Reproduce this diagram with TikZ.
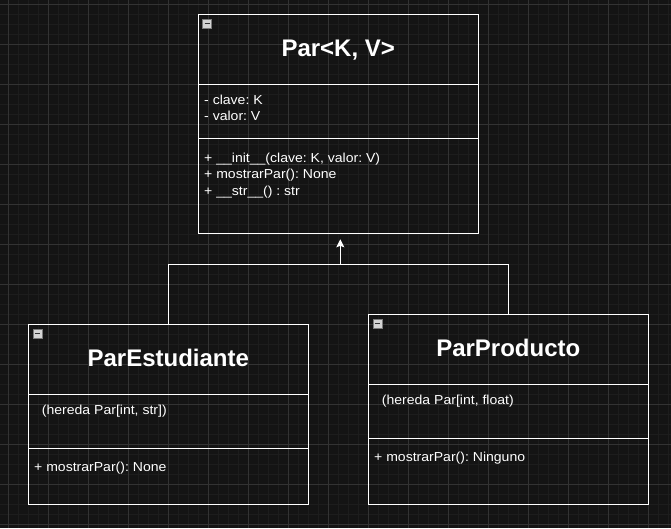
\documentclass[tikz,border=0pt]{standalone}
\usepackage{fontspec}
\setmainfont{Liberation Sans}
\newfontfamily\bodyfont[FakeStretch=1.08]{Liberation Sans}
\usetikzlibrary{arrows.meta}
\definecolor{bg}{HTML}{141414}
\definecolor{gmaj}{HTML}{333333}
\definecolor{gmin}{HTML}{1D1D1D}
\definecolor{iconfill}{HTML}{D4D4D4}
\definecolor{iconborder}{HTML}{7A7A7A}
\tikzset{
  umlbox/.style={draw=white, line width=1pt, rectangle, inner sep=0pt},
  divider/.style={draw=white, line width=1pt},
  conn/.style={draw=white, line width=1pt},
  titletext/.style={text=white, font=\fontsize{24}{28}\selectfont\bfseries, inner sep=0pt, anchor=base},
  bodytext/.style={text=white, font=\bodyfont\fontsize{13}{15}\selectfont\frenchspacing, inner sep=0pt, anchor=base west},
  minorline/.style={draw=gmin, line width=0.8pt},
  majorline/.style={draw=gmaj, line width=1pt},
}
\newcommand{\collapseicon}[2]{%
  \draw[fill=iconfill, draw=iconborder, line width=0.6pt] (#1+4.5,#2+4.5) rectangle (#1+13.5,#2+13.5);
  \draw[draw=black!80, line width=1.3pt] (#1+6.5,#2+9) -- (#1+11.5,#2+9);
}
\begin{document}
\begin{tikzpicture}[x=1pt, y=-1pt]
\useasboundingbox[fill=bg] (0,0) rectangle (671,528);
% grid
\foreach \x in {8,18,...,668} \draw[minorline] (\x,0) -- (\x,528);
\foreach \y in {4,14,...,524} \draw[minorline] (0,\y) -- (671,\y);
\foreach \x in {8,48,...,648} \draw[majorline] (\x,0) -- (\x,528);
\foreach \y in {4,44,...,524} \draw[majorline] (0,\y) -- (671,\y);

% Par box
\node[umlbox, minimum width=280pt, minimum height=219pt] (par) at (338.2,123.8) {};
\draw[divider] (198.2,84) -- (478.2,84);
\draw[divider] (198.2,138) -- (478.2,138);
\collapseicon{198.2}{14.3}
\node[titletext] (partitle) at (338.2,56.7) {Par<K, V>};
\node[bodytext] (parattr1) at (204,104) {- clave: K};
\node[bodytext] (parattr2) at (204,120.7) {- valor: V};
\node[bodytext] (parop1) at (204,162) {+ \_\_init\_\_(clave: K, valor: V)};
\node[bodytext] (parop2) at (204,178.5) {+ mostrarPar(): None};
\node[bodytext] (parop3) at (204,195) {+ \_\_str\_\_() : str};

% ParEstudiante box
\node[umlbox, minimum width=280pt, minimum height=180pt] (est) at (168.3,414.3) {};
\draw[divider] (28.3,394.3) -- (308.3,394.3);
\draw[divider] (28.3,448) -- (308.3,448);
\collapseicon{28.3}{324.3}
\node[titletext] (esttitle) at (168.3,366.7) {ParEstudiante};
\node[bodytext] (estattr) at (41.7,414) {(hereda Par[int, str])};
\node[bodytext] (estop) at (34,471.7) {+ mostrarPar(): None};

% ParProducto box
\node[umlbox, minimum width=280pt, minimum height=190pt] (prod) at (508.3,409.3) {};
\draw[divider] (368.3,384.3) -- (648.3,384.3);
\draw[divider] (368.3,438) -- (648.3,438);
\collapseicon{368.3}{314.3}
\node[titletext] (prodtitle) at (508.3,356.7) {ParProducto};
\node[bodytext] (prodattr) at (381.7,404) {(hereda Par[int, float)};
\node[bodytext] (prodop) at (374,461.7) {+ mostrarPar(): Ninguno};

% inheritance connectors
\coordinate (join) at (340.3,264.3);
\draw[conn] (est.north) |- (join);
\draw[conn] (prod.north) |- (join);
\draw[conn, -{Stealth[length=8pt, width=8pt, inset=1.5pt]}, shorten >=5.5pt] (join) -- (join |- par.south);
\end{tikzpicture}
\end{document}
